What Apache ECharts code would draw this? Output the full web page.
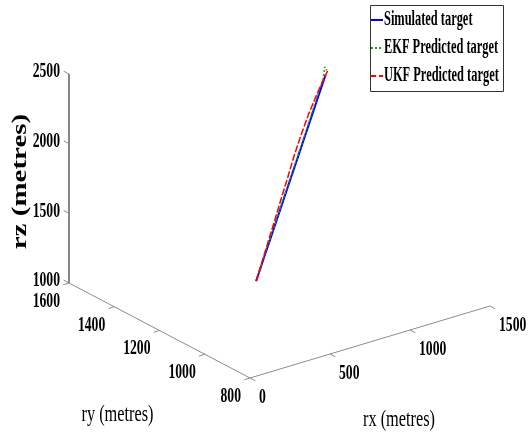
<!DOCTYPE html>
<html><head><meta charset="utf-8">
<script src="https://cdn.jsdelivr.net/npm/echarts@6/dist/echarts.min.js"></script>
<style>html,body{margin:0;padding:0;background:#fff}#c{width:531px;height:439px}</style>
</head><body><div id="c"></div>
<script>
// ---- data ----
const rxTicks = [0, 500, 1000, 1500];
const ryTicks = [800, 1000, 1200, 1400, 1600];
const rzTicks = [1000, 1500, 2000, 2500];
const seriesNames = ['Simulated target', 'EKF Predicted target', 'UKF Predicted target'];
const axisTitles = ['rx (metres)', 'ry (metres)', 'rz (metres)'];

const simRx = [760, 789, 817, 846, 874, 903, 931, 960, 988, 1017, 1045];
const simRy = [1310, 1300, 1289, 1279, 1268, 1258, 1247, 1237, 1226, 1216, 1205];
const simRz = [1000, 1147, 1294, 1441, 1588, 1735, 1882, 2029, 2176, 2323, 2470];

const ekfRx = [756, 786, 816, 844, 872, 901, 930, 958, 984, 1012, 1030, 1040, 1052];
const ekfRy = [1308, 1299, 1290, 1279, 1269, 1258, 1248, 1237, 1226, 1216, 1206, 1205, 1205];
const ekfRz = [1002, 1150, 1292, 1440, 1590, 1737, 1884, 2032, 2180, 2330, 2440, 2530, 2500];

const ukfRx = [762, 787, 812, 836, 860, 884, 908, 936, 968, 1010, 1058];
const ukfRy = [1312, 1301, 1291, 1280, 1270, 1259, 1249, 1238, 1227, 1216, 1205];
const ukfRz = [995, 1148, 1296, 1445, 1592, 1740, 1890, 2040, 2190, 2345, 2495];

// ---- view (3D -> 2D projection, layout only) ----
const W = 531, H = 439;
const view = { ox: 250, oy: 378, ex: [240, -72], ey: [-181, -95], ez: [0, -209] };
const rxR = [rxTicks[0], rxTicks[rxTicks.length - 1]];
const ryR = [ryTicks[0], ryTicks[ryTicks.length - 1]];
const rzR = [rzTicks[0], rzTicks[rzTicks.length - 1]];
function proj(x, y, z) {
  const u = (x - rxR[0]) / (rxR[1] - rxR[0]);
  const v = (y - ryR[0]) / (ryR[1] - ryR[0]);
  const w = (z - rzR[0]) / (rzR[1] - rzR[0]);
  return [view.ox + u * view.ex[0] + v * view.ey[0] + w * view.ez[0],
          view.oy + u * view.ex[1] + v * view.ey[1] + w * view.ez[1]];
}
function unit(v, s) { const l = Math.hypot(v[0], v[1]); return [v[0] / l * s, v[1] / l * s]; }
function pts(X, Y, Z) { return X.map((x, i) => proj(x, Y[i], Z[i])); }

const tickFont = 'bold 21px "Liberation Serif"';
const tickScale = 0.65;

function renderAxes(params, api) {
  const c = p => api.coord(p);
  const kids = [];
  const line = (a, b, color) => {
    const A = c(a), B = c(b);
    kids.push({ type: 'line', shape: { x1: A[0], y1: A[1], x2: B[0], y2: B[1] },
      style: { stroke: color, lineWidth: 1 }, silent: true });
  };
  const text = (p, str, align, font, sx, sy, rot) => {
    const P = c(p);
    kids.push({ type: 'text', x: P[0], y: P[1], scaleX: sx, scaleY: sy || 1, rotation: rot || 0,
      style: { text: str, x: 0, y: 0, font: font, fill: '#000',
        align: align, verticalAlign: 'middle', textAlign: align, textVerticalAlign: 'middle' }, silent: true });
  };
  // axis lines
  line(proj(rxR[0], ryR[1], rzR[0]), proj(rxR[0], ryR[1], rzR[1]), '#111');
  line(proj(rxR[0], ryR[0], rzR[0]), proj(rxR[0], ryR[1], rzR[0]), '#8c8c8c');
  line(proj(rxR[0], ryR[0], rzR[0]), proj(rxR[1], ryR[0], rzR[0]), '#8c8c8c');
  // z ticks
  const tz = unit(view.ey, 6);
  rzTicks.forEach(t => {
    const p = proj(rxR[0], ryR[1], t);
    line(p, [p[0] + tz[0], p[1] + tz[1]], '#8c8c8c');
    text([p[0] - 9, p[1] - 2], String(t), 'right', tickFont, tickScale);
  });
  // ry ticks
  const ty = unit([-view.ex[0], -view.ex[1]], 6);
  ryTicks.forEach(t => {
    const p = proj(rxR[0], t, rzR[0]);
    line(p, [p[0] + ty[0], p[1] + ty[1]], '#8c8c8c');
    text([p[0] - 9, p[1] + 18.5], String(t), 'right', tickFont, tickScale);
  });
  // rx ticks
  const tx = unit([-view.ey[0], -view.ey[1]], 6);
  rxTicks.forEach(t => {
    const p = proj(t, ryR[0], rzR[0]);
    line(p, [p[0] + tx[0], p[1] + tx[1]], '#8c8c8c');
    text([p[0] + 9, p[1] + 20], String(t), 'left', tickFont, tickScale);
  });
  // titles
  const mx = proj((rxR[0] + rxR[1]) / 2, ryR[0], rzR[0]);
  text([mx[0] + 29, mx[1] + 78], axisTitles[0], 'center', '24px "Liberation Serif"', 0.68);
  const my = proj(rxR[0], (ryR[0] + ryR[1]) / 2, rzR[0]);
  text([my[0] - 42, my[1] + 84], axisTitles[1], 'center', '24px "Liberation Serif"', 0.68);
  const mz = proj(rxR[0], ryR[1], (rzR[0] + rzR[1]) / 2);
  text([mz[0] - 48, mz[1] + 3], axisTitles[2], 'center', 'bold 29px "Liberation Serif"', 1, 0.7, Math.PI / 2);
  return { type: 'group', children: kids };
}

const colors = ['#0000ff', '#1f9a1f', '#ff0000'];
const legendY = [20, 48, 76];
const legendDash = ['solid', [2, 2], [5, 3]];
const legendKids = [{ type: 'rect', shape: { x: 370.5, y: 5.5, width: 133, height: 86 },
  style: { fill: '#fff', stroke: '#333', lineWidth: 1 } }];
seriesNames.forEach((n, i) => {
  legendKids.push({ type: 'line', shape: { x1: 371, y1: legendY[i], x2: 383, y2: legendY[i] },
    style: { stroke: colors[i], lineWidth: 2, lineDash: legendDash[i] === 'solid' ? null : legendDash[i] } });
  legendKids.push({ type: 'text', x: 384, y: legendY[i], scaleX: 0.62,
    style: { text: n, x: 0, y: 0, font: 'bold 20px "Liberation Serif"', fill: '#000',
      align: 'left', verticalAlign: 'middle', textAlign: 'left', textVerticalAlign: 'middle' } });
});

const chart = echarts.init(document.getElementById('c'), null, { renderer: 'canvas' });
chart.setOption({
  animation: false,
  backgroundColor: '#fff',
  grid: { left: 0, right: 0, top: 0, bottom: 0 },
  xAxis: { type: 'value', min: 0, max: W, show: false },
  yAxis: { type: 'value', min: 0, max: H, inverse: true, show: false },
  graphic: [{ type: 'group', z: 100, children: legendKids }],
  series: [
    { type: 'custom', name: 'axes', renderItem: renderAxes, data: [[0, 0]], silent: true, z: 1 },
    { type: 'line', name: seriesNames[0], data: pts(simRx, simRy, simRz), symbol: 'none',
      lineStyle: { color: colors[0], width: 2 }, z: 2 },
    { type: 'line', name: seriesNames[1], data: pts(ekfRx, ekfRy, ekfRz), symbol: 'none',
      lineStyle: { color: colors[1], width: 1.5, type: [2, 2] }, z: 3 },
    { type: 'line', name: seriesNames[2], data: pts(ukfRx, ukfRy, ukfRz), symbol: 'none',
      lineStyle: { color: colors[2], width: 1.5, type: [7, 2] }, z: 4 }
  ]
});
</script></body></html>
